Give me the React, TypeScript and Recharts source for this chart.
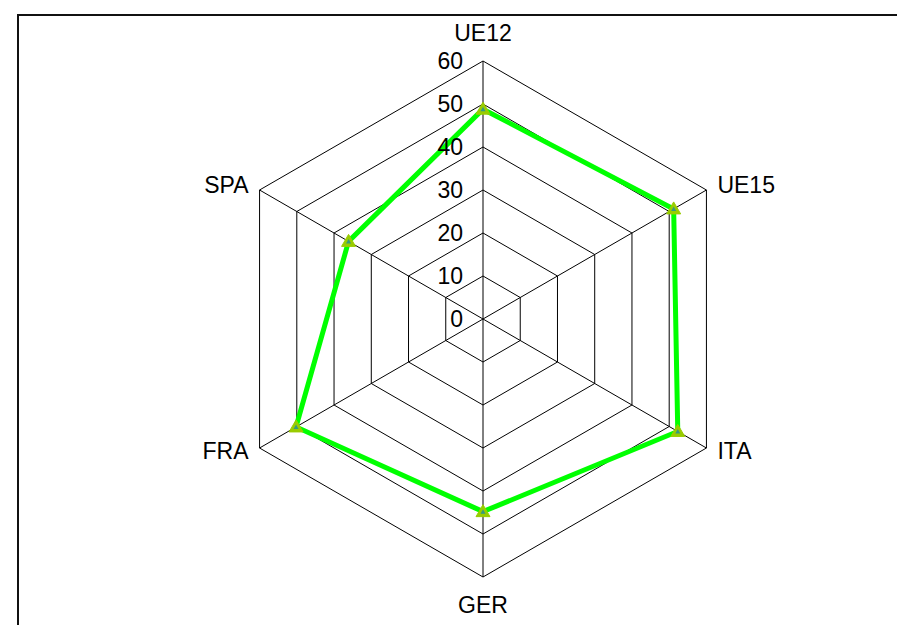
import { RadarChart, Radar, PolarGrid, PolarAngleAxis, PolarRadiusAxis } from 'recharts';

const countries = ['UE12', 'UE15', 'ITA', 'GER', 'FRA', 'SPA'];
const values = [48.8, 51.2, 52.3, 44.8, 50.2, 36.1];
const radiusTicks = [0, 10, 20, 30, 40, 50, 60];

const data = countries.map((name, i) => ({ name, value: values[i] }));

const FONT = '"Liberation Sans", Arial, sans-serif';
const CX = 483;
const CY = 319;
const R = 258;

const AngleTick = (props: any) => {
    const { payload } = props;
    const a = (payload.coordinate * Math.PI) / 180;
    const px = CX + R * Math.cos(a);
    const py = CY - R * Math.sin(a);
    const c = Math.cos(a);
    let x = px;
    let y = py;
    let anchor: 'start' | 'middle' | 'end' = 'middle';
    if (Math.abs(c) < 0.1) {
        y = Math.sin(a) > 0 ? py - 28 : py + 28;
    } else {
        anchor = c > 0 ? 'start' : 'end';
        x = c > 0 ? px + 11 : px - 11;
        y = Math.sin(a) > 0 ? py - 5 : py + 3;
    }
    return (
        <text x={x} y={y} dy="0.36em" textAnchor={anchor} fontSize={23} fontFamily={FONT} fill="#000">
            {payload.value}
        </text>
    );
};

const RadiusTick = (props: any) => {
    const { x, y, payload } = props;
    return (
        <text x={x - 20} y={y} dy="0.36em" textAnchor="end" fontSize={23} fontFamily={FONT} fill="#000">
            {payload.value}
        </text>
    );
};

const TriangleDot = (props: any) => {
    const { cx, cy } = props;
    if (cx == null || cy == null) return null;
    const outer = `${cx},${cy - 7} ${cx + 7},${cy + 5} ${cx - 7},${cy + 5}`;
    const inner = `${cx},${cy - 2.5} ${cx + 2.5},${cy + 2} ${cx - 2.5},${cy + 2}`;
    return (
        <g>
            <polygon points={outer} fill="#99CC00" stroke="#99CC00" strokeWidth={1} />
            <polygon points={inner} fill="#339980" />
        </g>
    );
};

export default function App() {
    return (
        <div style={{ position: 'absolute', left: 0, top: 0, width: 897, height: 625, overflow: 'hidden', background: '#fff' }}>
            <div
                style={{
                    position: 'absolute',
                    left: 17,
                    top: 14,
                    width: 1000,
                    height: 800,
                    borderLeft: '2px solid #111',
                    borderTop: '2px solid #111',
                }}
            />
            <div style={{ position: 'absolute', left: 0, top: 0 }}>
                <RadarChart width={897} height={625} data={data} cx={CX} cy={CY} outerRadius={R}>
                    <PolarGrid gridType="polygon" stroke="#000" strokeWidth={1} strokeOpacity={1} />
                    <PolarAngleAxis dataKey="name" tick={AngleTick} tickLine={false} axisLine={false} />
                    <PolarRadiusAxis
                        angle={90}
                        domain={[0, 60]}
                        ticks={radiusTicks as any}
                        tickCount={7}
                        tick={RadiusTick}
                        axisLine={false}
                        tickLine={false}
                    />
                    <Radar
                        dataKey="value"
                        stroke="#00FF00"
                        strokeWidth={5}
                        fill="none"
                        fillOpacity={0}
                        dot={TriangleDot}
                        isAnimationActive={false}
                    />
                </RadarChart>
            </div>
        </div>
    );
}
